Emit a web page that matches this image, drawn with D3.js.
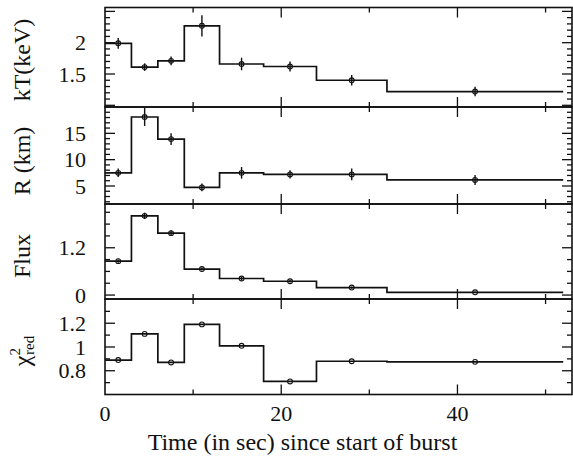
<!DOCTYPE html>
<html><head><meta charset="utf-8">
<script src="https://cdn.jsdelivr.net/npm/d3@7"></script>
<style>body{margin:0;background:#fff}svg{display:block}text{font-family:"Liberation Serif","Times New Roman",serif;fill:#111}</style>
</head><body><svg id="c" width="573" height="457"></svg>
<script>
// ---- data ----
const binEdges = [0, 3, 6, 9, 13, 18, 24, 32, 52];
const times = [1.5, 4.5, 7.5, 11, 15.5, 21, 28, 42];
const kT = [1.99, 1.61, 1.71, 2.27, 1.66, 1.62, 1.40, 1.22];
const kTErr = [0.085, 0.06, 0.07, 0.17, 0.10, 0.08, 0.085, 0.075];
const radius = [7.5, 18.1, 13.9, 4.73, 7.5, 7.2, 7.2, 6.15];
const radiusErr = [0.8, 1.7, 1.1, 0.75, 1.1, 0.8, 1.1, 0.95];
const flux = [0.86, 2.01, 1.57, 0.66, 0.42, 0.35, 0.19, 0.07];
const fluxErr = [0.04, 0.08, 0.07, 0.04, 0.04, 0.03, 0.03, 0.02];
const chi = [0.89, 1.11, 0.87, 1.19, 1.01, 0.71, 0.88, 0.875];
const xTickLabels = [0, 20, 40];
const xMinorTicks = [10, 30, 50];

const panels = [
  {title: "kT(keV)", vals: kT, err: kTErr, domain: [0.973, 2.562], top: 7.5, bot: 107,
   minor: d3.range(1.0, 2.56, 0.1), major: [1.0, 1.5, 2.0, 2.5], labels: [1.5, 2], fmt: d => String(d), ty: 60},
  {title: "R (km)", vals: radius, err: radiusErr, domain: [1.58, 20], top: 107, bot: 204,
   minor: d3.range(2, 20.5, 1), major: [5, 10, 15, 20], labels: [5, 10, 15], fmt: d => String(d), ty: 161},
  {title: "Flux", vals: flux, err: fluxErr, domain: [-0.10, 2.31], top: 204, bot: 299,
   minor: d3.range(0, 2.2, 0.3), major: [0, 1.2], labels: [0, 1.2], fmt: d => d === 0 ? "0" : d.toFixed(1), ty: 256},
  {title: "chi", vals: chi, err: null, domain: [0.6, 1.404], top: 299, bot: 394.5,
   minor: d3.range(0.7, 1.35, 0.1), major: [0.8, 1.0, 1.2], labels: [0.8, 1, 1.2], fmt: d => String(d), ty: 351}
];

const svg = d3.select("#c");
const L = 105, R = 572;
const x = d3.scaleLinear().domain([0, 53]).range([L, R]);
const ink = "#111";

panels.forEach(p => {
  const y = d3.scaleLinear().domain(p.domain).range([p.bot, p.top]);
  const g = svg.append("g");
  // frame
  g.append("rect").attr("x", L).attr("y", p.top).attr("width", R - L).attr("height", p.bot - p.top)
    .attr("fill", "none").attr("stroke", ink).attr("stroke-width", 1.6);
  // y ticks (both sides, inward)
  const isMajor = v => p.major.some(m => Math.abs(m - v) < 1e-6);
  p.minor.concat(p.major.filter(m => !p.minor.some(v => Math.abs(v - m) < 1e-6))).forEach(v => {
    const len = isMajor(v) ? 10 : 5;
    const yy = y(v);
    if (yy < p.top + 0.5 || yy > p.bot - 0.5) return;
    g.append("line").attr("x1", L).attr("x2", L + len).attr("y1", yy).attr("y2", yy).attr("stroke", ink).attr("stroke-width", 1.3);
    g.append("line").attr("x1", R).attr("x2", R - len).attr("y1", yy).attr("y2", yy).attr("stroke", ink).attr("stroke-width", 1.3);
  });
  // x ticks (top and bottom, inward)
  xTickLabels.concat(xMinorTicks).forEach(v => {
    const len = xTickLabels.includes(v) ? 10 : 5;
    const xx = x(v);
    if (v === 0) return;
    g.append("line").attr("x1", xx).attr("x2", xx).attr("y1", p.top).attr("y2", p.top + len).attr("stroke", ink).attr("stroke-width", 1.3);
    g.append("line").attr("x1", xx).attr("x2", xx).attr("y1", p.bot).attr("y2", p.bot - len).attr("stroke", ink).attr("stroke-width", 1.3);
  });
  // y labels
  p.labels.forEach(v => {
    g.append("text").attr("x", 86).attr("y", y(v)).attr("dy", "0.35em").attr("text-anchor", "end")
      .attr("font-size", 22).text(p.fmt(v));
  });
  // step line
  const pts = p.vals.map((v, i) => [binEdges[i], v]);
  pts.push([binEdges[binEdges.length - 1], p.vals[p.vals.length - 1]]);
  const line = d3.line().x(d => x(d[0])).y(d => y(d[1])).curve(d3.curveStepAfter);
  g.append("path").attr("d", line(pts)).attr("fill", "none").attr("stroke", ink).attr("stroke-width", 1.7);
  // error bars
  if (p.err) {
    p.vals.forEach((v, i) => {
      g.append("line").attr("x1", x(times[i])).attr("x2", x(times[i]))
        .attr("y1", y(v - p.err[i])).attr("y2", y(v + p.err[i])).attr("stroke", ink).attr("stroke-width", 1.4);
    });
  }
  // markers
  p.vals.forEach((v, i) => {
    g.append("circle").attr("cx", x(times[i])).attr("cy", y(v)).attr("r", 2.4)
      .attr("fill", "none").attr("stroke", ink).attr("stroke-width", 1.1);
  });
  // title
  const t = g.append("text").attr("transform", `translate(30,${p.ty}) rotate(-90)`)
    .attr("text-anchor", "middle").attr("font-size", 24);
  if (p.title === "chi") {
    t.append("tspan").text("\u03c7");
    t.append("tspan").attr("font-size", 15).attr("dy", -10).text("2");
    t.append("tspan").attr("font-size", 15).attr("dx", -7).attr("dy", 14).text("red");
  } else {
    t.text(p.title);
  }
});

// x tick labels
xTickLabels.forEach(v => {
  svg.append("text").attr("x", x(v)).attr("y", 421).attr("text-anchor", "middle").attr("font-size", 22).text(v);
});
svg.append("text").attr("x", (L + R) / 2 - 36).attr("y", 450).attr("text-anchor", "middle").attr("font-size", 24)
  .text("Time (in sec) since start of burst");
</script></body></html>
